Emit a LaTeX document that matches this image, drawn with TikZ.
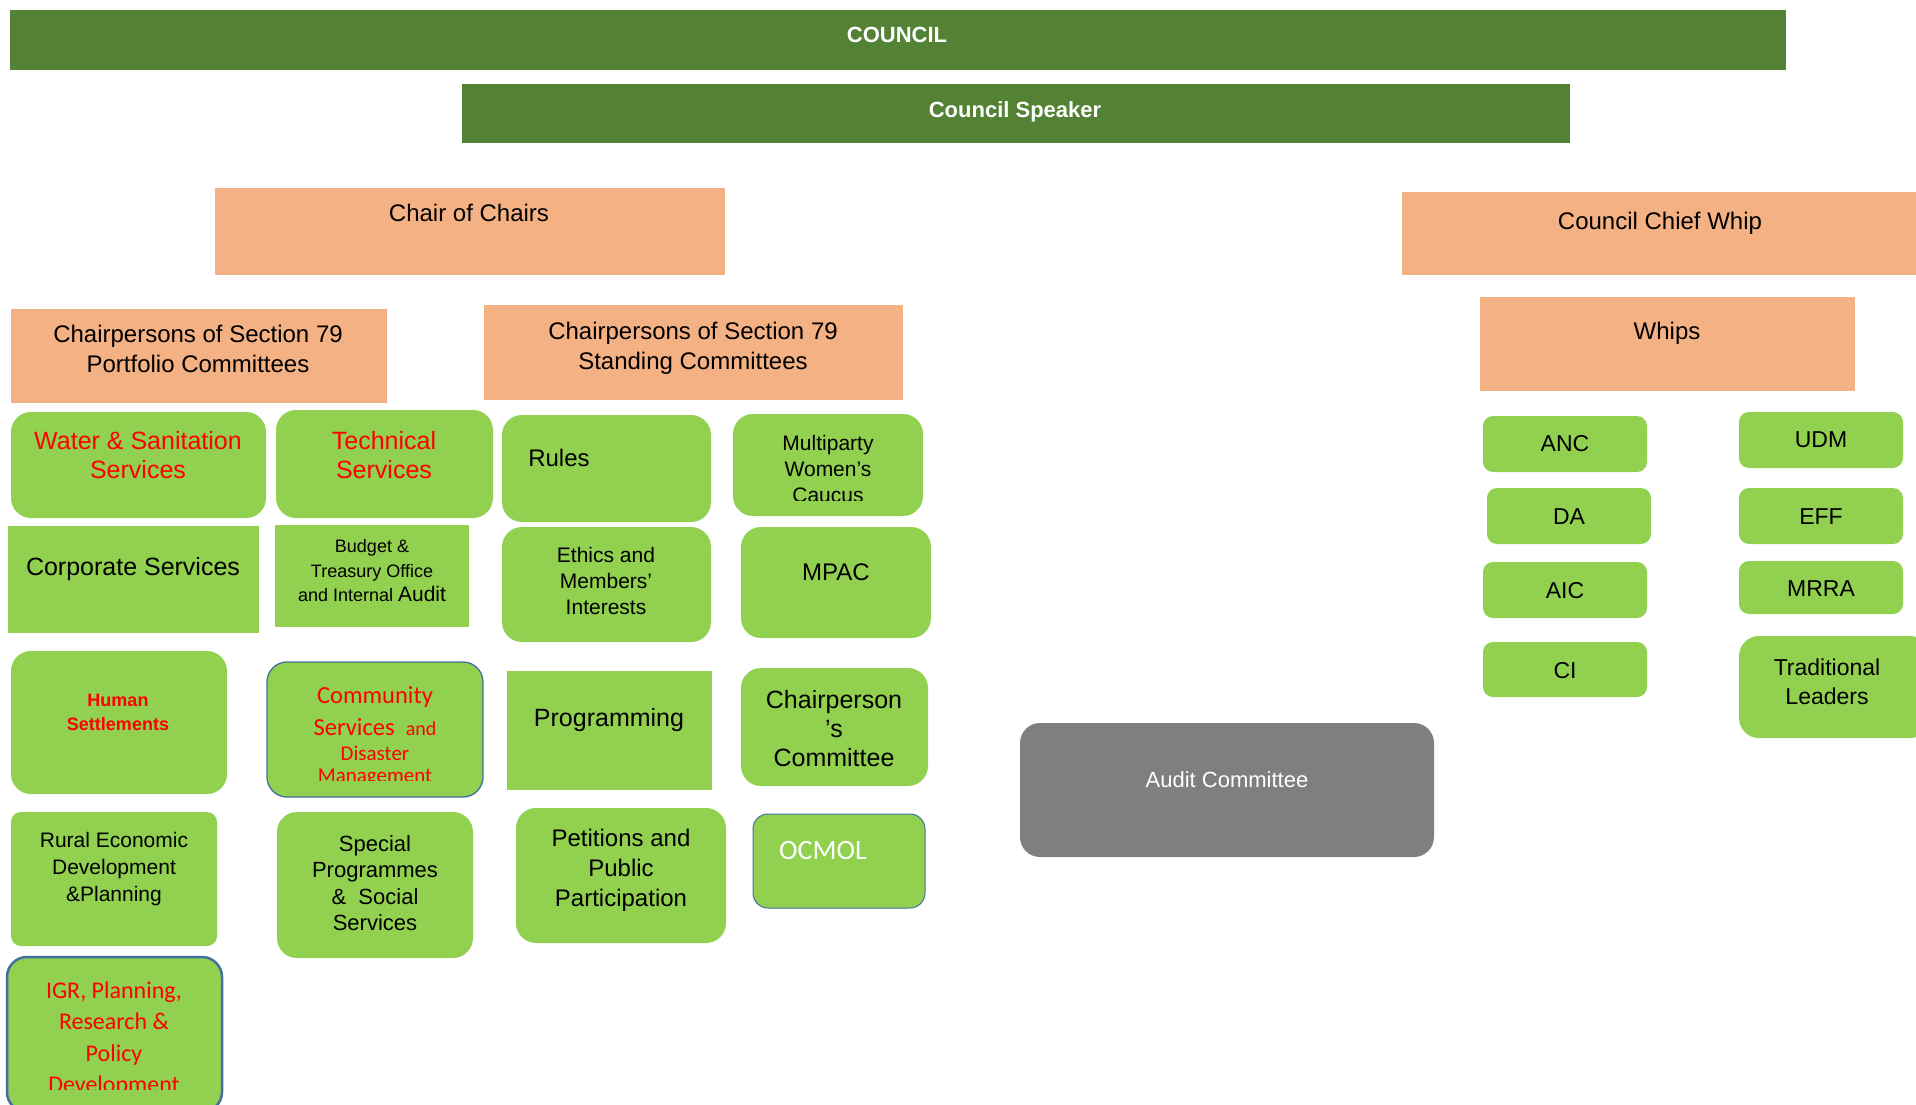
\documentclass[tikz,border=0pt]{standalone}
\usepackage{fontspec}
\setmainfont{Liberation Sans}
\newfontfamily\calib{Carlito}
\usetikzlibrary{fit}
\definecolor{dkgreen}{HTML}{548235}
\definecolor{salmon}{HTML}{F4B183}
\definecolor{lgreen}{HTML}{92D050}
\definecolor{agray}{HTML}{7F7F7F}
\definecolor{oblue}{HTML}{41719C}
\newcommand\fs[2]{\fontsize{#1}{#2}\selectfont}
\tikzset{
  bar/.style={fill=dkgreen, inner sep=0pt, outer sep=0pt},
  sbox/.style={fill=salmon, inner sep=0pt, outer sep=0pt},
  gbox/.style={fill=lgreen, inner sep=0pt, outer sep=0pt, rounded corners=20pt},
  grect/.style={fill=lgreen, inner sep=0pt, outer sep=0pt},
  pbox/.style={fill=lgreen, inner sep=0pt, outer sep=0pt, rounded corners=10pt},
  abox/.style={fill=agray, inner sep=0pt, outer sep=0pt, rounded corners=20pt},
  txt/.style={align=center, inner sep=0pt, outer sep=0pt},
}
\begin{document}
\begin{tikzpicture}[x=1pt,y=-1pt]
\clip (0,0) rectangle (1916,1105);
\fill[white] (0,0) rectangle (1916,1105);

% top bars
\node[bar, fit={(10,10)(1786,70)}] (council) {};
\node[txt, font=\bfseries\fs{22}{26}, text=white] (council-t) at (897,35) {COUNCIL};
\node[bar, fit={(462,84)(1570,143)}] (speaker) {};
\node[txt, font=\bfseries\fs{22}{26}, text=white] (speaker-t) at (1015,112) {Council Speaker};

% salmon boxes
\node[sbox, fit={(215,188)(725,275)}] (coc) {};
\node[txt, font=\fs{24}{30}] (coc-t) at (469,213) {Chair of Chairs};
\node[sbox, fit={(1402,192)(1920,275)}] (whip) {};
\node[txt, font=\fs{24}{30}] (whip-t) at (1660,223) {Council Chief Whip};
\node[sbox, fit={(11,309)(387,403)}] (port) {};
\node[txt, font=\fs{24}{30}] (port-t) at (198,349) {Chairpersons of Section 79\\Portfolio Committees};
\node[sbox, fit={(484,305)(903,400)}] (stand) {};
\node[txt, font=\fs{24}{30}] (stand-t) at (693,348) {Chairpersons of Section 79\\Standing Committees};
\node[sbox, fit={(1480,297)(1855,391)}] (whips) {};
\node[txt, font=\fs{24}{30}] (whips-t) at (1667,333) {Whips};

% portfolio committees
\node[gbox, fit={(11,412)(266,518)}] (ws) {};
\node[txt, font=\fs{25}{29}, text=red] (ws-t) at (138,455.5) {Water \& Sanitation\\Services};
\node[gbox, fit={(276,410)(493,518)}] (tech) {};
\node[txt, font=\fs{25}{29}, text=red] (tech-t) at (384,455.5) {Technical\\Services};
\node[grect, fit={(8,526)(259,633)}] (corp) {};
\node[txt, font=\fs{25}{29}] (corp-t) at (133,569) {Corporate Services};
\node[grect, fit={(275,525)(469,627)}] (budget) {};
\node[txt, font=\fs{18}{24.5}] (budget-t) at (372,571) {Budget \&\\Treasury Office\\and Internal {\fs{21}{24.5}Audit}};
\node[gbox, fit={(11,651)(227,794)}] (human) {};
\node[txt, font=\bfseries\fs{18}{24}, text=red] (human-t) at (118,712) {Human\\Settlements};
\node[gbox, draw=oblue, line width=1.3pt, fit={(267,662)(483,797)}] (comm) {};
\begin{scope}
\clip (267,662) rectangle (483,780);
\node[txt, font=\calib\fs{24.5}{30}, text=red, anchor=base] (comm-t1) at (375,703) {Community};
\node[txt, font=\calib\fs{24.5}{30}, text=red, anchor=base] (comm-t2) at (375,735) {Services\ \ {\fs{20}{24}and}};
\node[txt, font=\calib\fs{21}{24}, text=red, anchor=base] (comm-t3) at (375,760) {Disaster};
\node[txt, font=\calib\fs{21}{24}, text=red, anchor=base] (comm-t4) at (375,782) {Management};
\end{scope}
\node[pbox, fit={(11,812)(217,946)}] (rural) {};
\node[txt, font=\fs{21}{27}] (rural-t) at (114,869) {Rural Economic\\Development\\\&Planning};
\node[gbox, fit={(277,812)(473,958)}] (special) {};
\node[txt, font=\fs{22}{26.5}] (special-t) at (375,883) {Special\\Programmes\\\&\ \ Social\\Services};
\node[gbox, draw=oblue, line width=2.5pt, fit={(7,957)(222,1112)}] (igr) {};
\begin{scope}
\clip (7,957) rectangle (222,1089);
\node[txt, font=\calib\fs{24}{31.5}, text=red] (igr-t) at (114,1039) {IGR, Planning,\\Research \&\\Policy\\Development};
\end{scope}

% standing committees
\node[gbox, fit={(502,415)(711,522)}] (rules) {};
\node[txt, font=\fs{24}{28}] (rules-t) at (559,458) {Rules};
\node[gbox, fit={(733,414)(923,516)}] (multi) {};
\begin{scope}
\clip (733,414) rectangle (923,500);
\node[txt, font=\fs{21}{26}] (multi-t) at (828,469) {Multiparty\\Women’s\\Caucus};
\end{scope}
\node[gbox, fit={(502,527)(711,642)}] (ethics) {};
\node[txt, font=\fs{21}{26.3}] (ethics-t) at (606,581) {Ethics and\\Members’\\Interests};
\node[gbox, fit={(741,527)(931,638)}] (mpac) {};
\node[txt, font=\fs{24}{28}] (mpac-t) at (836,572) {MPAC};
\node[grect, fit={(507,671)(712,790)}] (prog) {};
\node[txt, font=\fs{25}{29}] (prog-t) at (609,720) {Programming};
\node[gbox, fit={(741,668)(928,786)}] (chairc) {};
\node[txt, font=\fs{25}{29}] (chairc-t) at (834,728.5) {Chairperson\\’s\\Committee};
\node[gbox, fit={(516,808)(726,943)}] (petit) {};
\node[txt, font=\fs{24}{30}] (petit-t) at (621,870) {Petitions and\\Public\\Participation};
\node[gbox, draw=oblue, line width=1pt, rounded corners=15pt, fit={(753,814)(925,908)}] (ocmol) {};
\node[txt, font=\calib\fs{28}{32}, text=white] (ocmol-t) at (823,851) {OCMOL};

% audit committee
\node[abox, fit={(1020,723)(1434,857)}] (audit) {};
\node[txt, font=\fs{22}{26}, text=white] (audit-t) at (1227,780) {Audit Committee};

% parties
\node[pbox, fit={(1483,416)(1647,472)}] (anc) {};
\node[txt, font=\fs{23}{28}] (anc-t) at (1565,444) {ANC};
\node[pbox, fit={(1487,488)(1651,544)}] (da) {};
\node[txt, font=\fs{23}{28}] (da-t) at (1569,517) {DA};
\node[pbox, fit={(1483,562)(1647,618)}] (aic) {};
\node[txt, font=\fs{23}{28}] (aic-t) at (1565,591) {AIC};
\node[pbox, fit={(1483,642)(1647,697)}] (ci) {};
\node[txt, font=\fs{23}{28}] (ci-t) at (1565,671) {CI};
\node[pbox, fit={(1739,412)(1903,468)}] (udm) {};
\node[txt, font=\fs{23}{28}] (udm-t) at (1821,440) {UDM};
\node[pbox, fit={(1739,488)(1903,544)}] (eff) {};
\node[txt, font=\fs{23}{28}] (eff-t) at (1821,517) {EFF};
\node[pbox, fit={(1739,561)(1903,614)}] (mrra) {};
\node[txt, font=\fs{23}{28}] (mrra-t) at (1821,589) {MRRA};
\node[gbox, fit={(1739,636)(1930,738)}] (trad) {};
\node[txt, font=\fs{23}{29}] (trad-t) at (1827,682) {Traditional\\Leaders};
\end{tikzpicture}
\end{document}
